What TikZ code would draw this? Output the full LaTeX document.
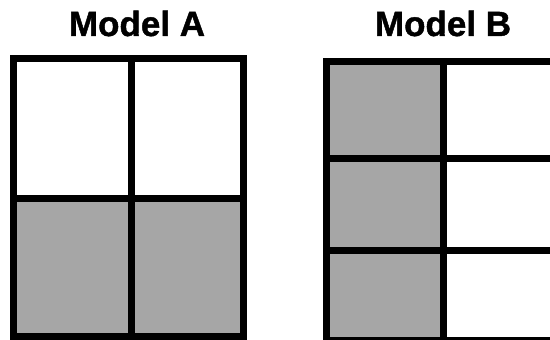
\documentclass[tikz,border=0pt]{standalone}
\usepackage{fontspec}
\setmainfont{Liberation Sans}
\newfontfamily\titlefont[FakeBold=1.2]{Liberation Sans Bold}
\definecolor{cellgray}{HTML}{A6A6A6}
\tikzset{
	cell/.style={draw=black,line width=7pt,fill=white},
	shaded/.style={cell,fill=cellgray},
	title/.style={font=\titlefont\fontsize{35}{35}\selectfont,anchor=base}
}

\begin{document}
\begin{tikzpicture}[x=1pt,y=1pt]
		\useasboundingbox (0,0) rectangle (550,340);
		\clip (0,0) rectangle (550,340);
		
		% Model A
		\path[cell] (13.5,141.5) rectangle (131,281.5);
		\path[cell] (131,141.5) rectangle (243.5,281.5);
		\path[shaded] (13.5,3.5) rectangle (131,141.5);
		\path[shaded] (131,3.5) rectangle (243.5,141.5);
		
		% Model B
		\path[shaded] (326.5,181) rectangle (443.5,278.5);
		\path[cell] (443.5,181) rectangle (556,278.5);
		\path[shaded] (326.5,89) rectangle (443.5,181);
		\path[cell] (443.5,89) rectangle (556,181);
		\path[shaded] (326.5,-1) rectangle (443.5,89);
		\path[cell] (443.5,-1) rectangle (556,89);
		
		\node[title] (titleA) at (137,304) {Model A};
		\node[title] (titleB) at (443,304) {Model B};
	\end{tikzpicture}
\end{document}
